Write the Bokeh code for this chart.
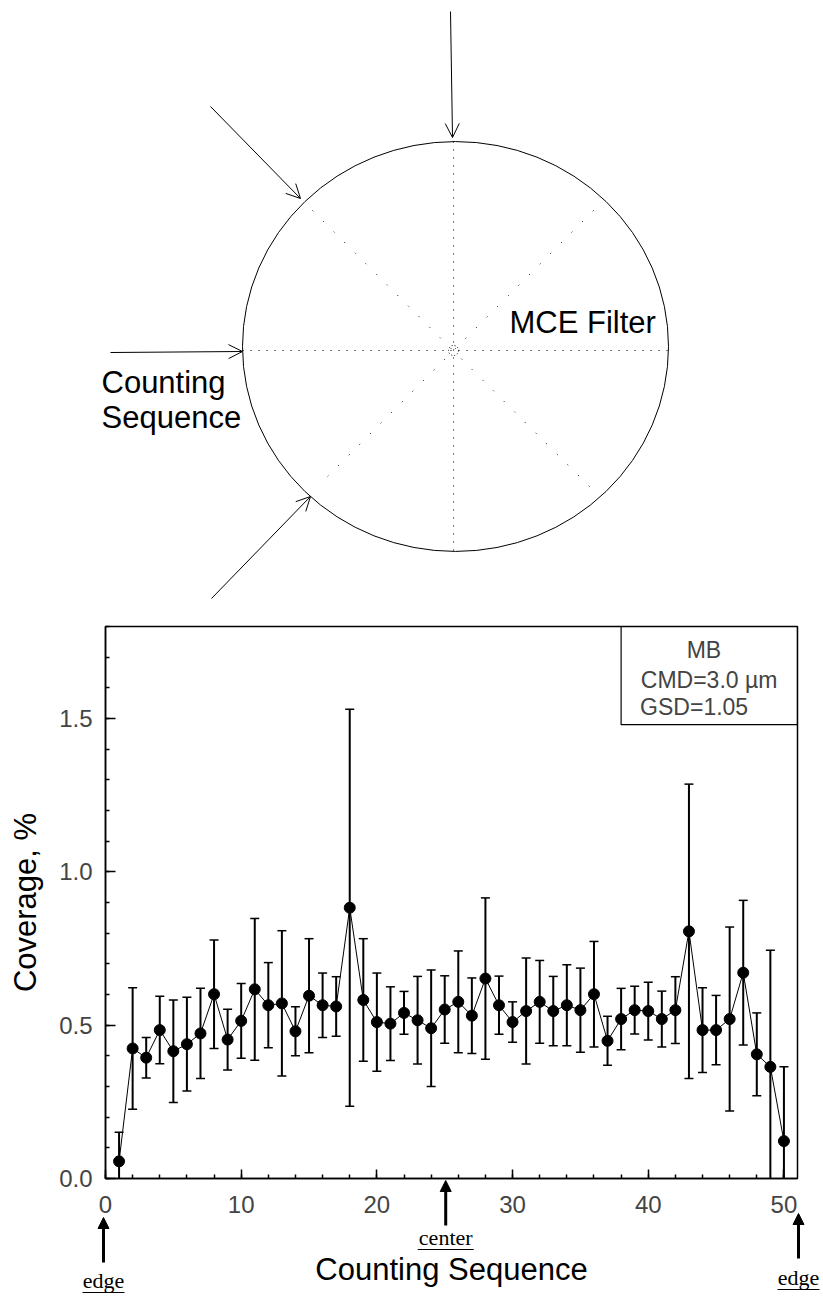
from bokeh.plotting import figure
from bokeh.models import (FixedTicker, PrintfTickFormatter, Range1d, Arrow, OpenHead,
                          NormalHead, Label, BoxAnnotation, ColumnDataSource)
from bokeh.embed import file_html
from bokeh.resources import INLINE
from bokeh.core.properties import value

# ---------------- data ----------------
seq = list(range(1, 51))
coverage = [0.056, 0.424, 0.394, 0.484, 0.415, 0.438, 0.473, 0.601, 0.453, 0.514,
            0.617, 0.565, 0.571, 0.480, 0.596, 0.565, 0.561, 0.883, 0.582, 0.510,
            0.505, 0.540, 0.516, 0.490, 0.551, 0.576, 0.531, 0.652, 0.565, 0.510,
            0.546, 0.576, 0.546, 0.565, 0.549, 0.601, 0.449, 0.520, 0.549, 0.546,
            0.520, 0.549, 0.806, 0.484, 0.484, 0.520, 0.671, 0.405, 0.364, 0.122]
error = [0.095, 0.198, 0.066, 0.110, 0.167, 0.153, 0.147, 0.177, 0.099, 0.122,
         0.231, 0.139, 0.237, 0.080, 0.186, 0.105, 0.097, 0.647, 0.200, 0.160,
         0.120, 0.070, 0.143, 0.190, 0.110, 0.166, 0.123, 0.263, 0.095, 0.066,
         0.173, 0.135, 0.113, 0.132, 0.137, 0.172, 0.080, 0.100, 0.078, 0.094,
         0.091, 0.109, 0.480, 0.138, 0.113, 0.300, 0.236, 0.135, 0.380, 0.242]

x_ticks = [0, 10, 20, 30, 40, 50]
x_minor = [v for v in range(0, 51, 2)]
y_ticks = [0.0, 0.5, 1.0, 1.5]
y_minor = [round(0.1 * i, 1) for i in range(0, 19)]
legend_lines = ["MB", "CMD=3.0 µm", "GSD=1.05"]
x_title = "Counting Sequence"
y_title = "Coverage, %"
marker_pos = [0, 25, 51]
marker_txt = ["edge", "center", "edge"]
SANS = "Liberation Sans"
SERIF = "Liberation Serif"

# page geometry (Bokeh's template has no body margin)
PW = 823
FL, FR = 105, 797          # chart frame left / right
FW = FR - FL
FT, FH = 626, 552          # chart frame top / height
FB = FT + FH
TOP_H = 600                # diagram panel height
BOT = 117                  # bottom border of chart

# ---------------- diagram (top) ----------------
p1 = figure(width=PW, height=TOP_H, x_range=Range1d(0, PW), y_range=Range1d(TOP_H, 0),
            output_backend="svg", toolbar_location=None,
            x_axis_location=None, y_axis_location=None,
            min_border_left=0, min_border_right=0, min_border_top=0, min_border_bottom=0)
p1.grid.visible = False
p1.outline_line_color = None

p1.ellipse(x=[455], y=[346], width=[426], height=[410], fill_color=None,
           line_color="black", line_width=1)
p1.segment(x0=[453, 242], y0=[141, 350], x1=[453, 668], y1=[551, 350],
           line_color="black", line_width=1, line_dash="1 7")
p1.segment(x0=[312, 593], y0=[210, 210], x1=[593, 319], y1=[490, 484],
           line_color="black", line_width=1, line_dash="1 14")
p1.circle(x=[453], y=[350], radius=5, fill_color=None, line_color="black",
          line_width=1, line_dash="1 2")
p1.text(x=[509, 101, 101], y=[322, 382, 417], text=["MCE Filter", "Counting", "Sequence"],
        text_font=value(SANS), text_font_size="31px", text_baseline="middle",
        text_align="left", text_color="black")
for (xs, ys, xe, ye) in [(450, 11, 452, 137), (210, 106, 300, 198),
                         (110, 352, 242, 351), (211, 598, 310, 496)]:
    p1.add_layout(Arrow(end=OpenHead(size=14, line_width=1, line_color="black"),
                        x_start=xs, y_start=ys, x_end=xe, y_end=ye,
                        line_width=1, line_color="black"))

# ---------------- chart ----------------
X0, X1 = 0, 51
Y0, Y1 = 0, 1.8
p2 = figure(width=None, height=None, frame_width=FW, frame_height=FH,
            x_range=Range1d(X0, X1), y_range=Range1d(Y0, Y1),
            output_backend="svg", toolbar_location=None,
            min_border_left=FL, min_border_right=PW - FR, min_border_top=FT - TOP_H,
            min_border_bottom=BOT)
p2.grid.visible = False
p2.outline_line_color = "black"
p2.outline_line_width = 1.5
p2.background_fill_color = "white"
p2.border_fill_color = "white"

p2.xaxis.ticker = FixedTicker(ticks=x_ticks, minor_ticks=x_minor)
p2.yaxis.ticker = FixedTicker(ticks=y_ticks, minor_ticks=y_minor)
p2.yaxis.formatter = PrintfTickFormatter(format="%.1f")
p2.xaxis.axis_label = x_title
p2.yaxis.axis_label = y_title
for ax in (p2.xaxis[0], p2.yaxis[0]):
    ax.major_tick_in = 10 if ax is p2.yaxis[0] else 9
    ax.major_tick_out = 0
    ax.minor_tick_in = 4
    ax.minor_tick_out = 0
    ax.axis_line_width = 1.5
    ax.major_tick_line_width = 1.5
    ax.minor_tick_line_width = 1.5
    ax.major_label_text_font = SANS
    ax.major_label_text_font_size = "24px"
    ax.major_label_text_color = "#444444"
    ax.axis_label_text_font = SANS
    ax.axis_label_text_font_size = "31px"
    ax.axis_label_text_font_style = "normal"
    ax.axis_label_text_color = "black"
p2.xaxis.major_label_standoff = 17
p2.xaxis.axis_label_standoff = 36
p2.yaxis.major_label_standoff = 13
p2.yaxis.axis_label_standoff = 13

lo = [c - e for c, e in zip(coverage, error)]
hi = [c + e for c, e in zip(coverage, error)]
src = ColumnDataSource(dict(x=seq, y=coverage, lo=lo, hi=hi))
p2.segment(x0="x", y0="lo", x1="x", y1="hi", source=src, line_color="black", line_width=2)
p2.scatter(x="x", y="lo", source=src, marker="dash", size=9, line_color="black", line_width=1.5)
p2.scatter(x="x", y="hi", source=src, marker="dash", size=9, line_color="black", line_width=1.5)
p2.line(x="x", y="y", source=src, line_color="black", line_width=1)
p2.scatter(x="x", y="y", source=src, marker="circle", size=11,
           fill_color="black", line_color="black")

p2.add_layout(BoxAnnotation(left=38, right=X1, bottom=1.48, top=Y1, fill_color=None,
                            fill_alpha=0, line_color="black", line_width=1.2, line_alpha=1))
p2.add_layout(Label(x=44.1, y=1.725, text=legend_lines[0], text_align="center",
                    text_baseline="middle", text_font=SANS, text_font_size="23px"))
p2.add_layout(Label(x=39.45, y=1.624, text=legend_lines[1], text_align="left",
                    text_baseline="middle", text_font=SANS, text_font_size="23px"))
p2.add_layout(Label(x=39.4, y=1.539, text=legend_lines[2], text_align="left",
                    text_baseline="middle", text_font=SANS, text_font_size="23px"))

# ---------------- edge / center markers (transparent overlay under the axis) ----------------
p3 = figure(width=PW, height=BOT, x_range=Range1d(0, PW), y_range=Range1d(FB + BOT, FB),
            output_backend="svg", toolbar_location=None,
            x_axis_location=None, y_axis_location=None,
            min_border_left=0, min_border_right=0, min_border_top=0, min_border_bottom=0)
p3.grid.visible = False
p3.outline_line_color = None
p3.background_fill_color = None
p3.border_fill_color = None
p3.margin = (-BOT, 0, 0, 0)

def page_x(xd):
    return FL + (xd - X0) / (X1 - X0) * FW

# offsets below the axis: x shift, arrow tip, arrow tail, text middle, underline, half width
geo = [(-2, 39, 84, 102, 114, 21), (1, 2, 47, 59, 71, 28), (1, 35, 80, 99, 111, 21)]
tx, ty, ux0, ux1, uy = [], [], [], [], []
for xd, t, (dx, tip, tail, mid, ul, half) in zip(marker_pos, marker_txt, geo):
    xa = page_x(xd) + dx
    p3.add_layout(Arrow(end=NormalHead(size=11, fill_color="black", line_color="black",
                                       line_width=1),
                        x_start=xa, y_start=FB + tail, x_end=xa, y_end=FB + tip,
                        line_width=3, line_color="black"))
    tx.append(xa)
    ty.append(FB + mid)
    ux0.append(xa - half)
    ux1.append(xa + half)
    uy.append(FB + ul)
p3.text(x=tx, y=ty, text=marker_txt, text_align="center", text_baseline="middle",
        text_font=value(SERIF), text_font_size="22px", text_color="black")
p3.segment(x0=ux0, y0=uy, x1=ux1, y1=uy, line_color="black", line_width=1.2)

open("out.html", "w").write(file_html((p1, p2, p3), INLINE))
